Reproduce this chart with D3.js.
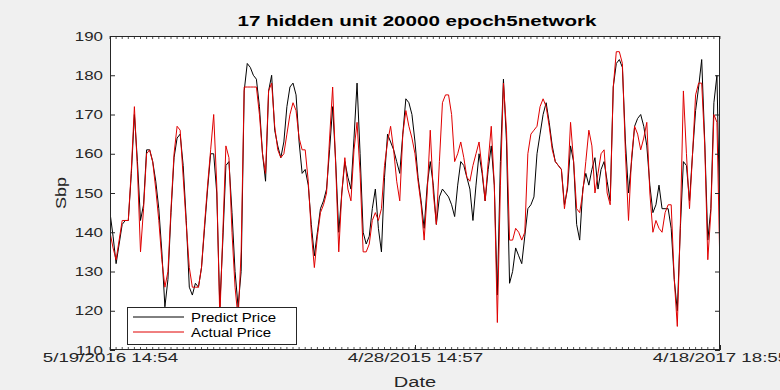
<!DOCTYPE html>
<html>
<head>
<meta charset="utf-8">
<script src="https://cdn.jsdelivr.net/npm/d3@7"></script>
<style>
  html, body { margin: 0; padding: 0; background: #f0f0f0; }
  svg { display: block; font-family: Arial, "Liberation Sans", Helvetica, sans-serif; }
</style>
</head>
<body>
<svg id="chart" width="780" height="390"></svg>
<script>
// ---- data ----
const title = "17 hidden unit 20000 epoch5network";
const xLabel = "Date";
const yLabel = "Sbp";
const seriesNames = ["Predict Price", "Actual Price"];
const xTickLabels = ["5/19/2016 14:54", "4/28/2015 14:57", "4/18/2017 18:55"];
const yTicks = [110, 120, 130, 140, 150, 160, 170, 180, 190];

const predictPrice = [
  145,139,132,137,142,143,143,155,170,158,143,147,161,161,158,153,146,135,121,128,
  145,159,164,165,157,143,126,124,127,126,131,141,151,160,160,150,121,138,157,158,
  145,130,121,130,176,183,182,180,179,172,160,153,176,180,166,162,159,163,172,177,
  178,175,163,155,156,152,142,134,140,146,148,151,161,172,158,140,150,158,154,151,
  164,178,160,140,137,139,146,151,141,135,154,165,163,161,158,155,165,174,173,170,
  163,154,148,141,152,158,152,142,149,151,150,149,147,144,152,158,157,154,151,143,
  152,160,155,148,156,162,152,124,158,179,163,127,130,136,134,132,139,146,147,149,
  160,165,170,173,168,162,158,157,156,147,151,162,158,142,138,151,155,152,156,159,
  151,156,158,153,148,177,183,184,182,163,150,158,167,169,170,167,162,152,145,147,
  152,146,146,146,141,128,120,141,158,157,148,160,171,177,184,163,138,146,173,180,
  140
];
const actualPrice = [
  140,136,133,138,143,143,143,156,172,156,135,146,160,161,158,151,143,133,126,130,
  146,160,167,166,154,142,131,126,126,126,131,142,152,161,170,152,118,140,162,159,
  140,126,118,135,177,177,177,177,177,170,160,155,176,178,167,161,159,160,165,170,
  173,171,164,161,161,153,140,131,139,145,147,150,164,177,157,135,150,159,151,148,
  161,168,155,135,135,137,143,145,143,146,157,163,167,161,153,148,165,171,167,164,
  160,153,147,138,150,166,150,142,158,173,175,175,170,158,160,163,159,154,153,157,
  160,163,156,148,158,167,152,117,152,178,166,138,138,141,140,138,140,160,165,166,
  167,172,174,172,167,161,158,157,156,146,152,168,158,146,145,150,158,166,162,150,
  155,160,161,150,147,177,186,186,183,160,143,159,167,165,161,164,168,150,140,143,
  141,140,145,147,147,128,116,142,176,160,146,160,175,178,178,162,133,145,170,168,
  130
];

// ---- layout ----
const W = 780, H = 390;
const m = { left: 110, right: 60, top: 36, bottom: 40 };
const x0 = m.left, x1 = W - m.right, y0 = m.top, y1 = H - m.bottom;
const FONT = "Arial, 'Liberation Sans', Helvetica, sans-serif";

// horizontally stretch a text selection by factor k (reference is widened)
function stretch(sel, k) {
  sel.each(function () {
    const w = this.getComputedTextLength();
    if (w > 0) {
      d3.select(this).attr("textLength", w * k).attr("lengthAdjust", "spacingAndGlyphs");
    }
  });
}

const svg = d3.select("#chart");
svg.append("rect").attr("width", W).attr("height", H).attr("fill", "#f0f0f0");

const n = actualPrice.length;
const idx = d3.range(1, n + 1);
const x = d3.scaleLinear().domain([1, n]).range([x0, x1]);
const y = d3.scaleLinear().domain([110, 190]).range([y1, y0]);

// axes area
svg.append("rect")
  .attr("x", x0).attr("y", y0).attr("width", x1 - x0).attr("height", y1 - y0)
  .attr("fill", "#ffffff");

svg.append("clipPath").attr("id", "clip")
  .append("rect").attr("x", x0).attr("y", y0).attr("width", x1 - x0).attr("height", y1 - y0);

// lines
const line = d3.line().x((d, i) => x(idx[i])).y(d => y(d));
const g = svg.append("g").attr("clip-path", "url(#clip)");
g.append("path").datum(predictPrice)
  .attr("d", line).attr("fill", "none").attr("stroke", "#000000").attr("stroke-width", 1);
g.append("path").datum(actualPrice)
  .attr("d", line).attr("fill", "none").attr("stroke", "#e00000").attr("stroke-width", 1);

// x minor ticks (top & bottom, inward)
const minorTicks = d3.range(1, n + 1, 2);
const tickCol = "#262626";
svg.append("g").selectAll("line").data(minorTicks).join("line")
  .attr("x1", d => x(d)).attr("x2", d => x(d))
  .attr("y1", y1).attr("y2", y1 - 3).attr("stroke", tickCol).attr("stroke-width", 0.8);
svg.append("g").selectAll("line").data(minorTicks).join("line")
  .attr("x1", d => x(d)).attr("x2", d => x(d))
  .attr("y1", y0).attr("y2", y0 + 3).attr("stroke", tickCol).attr("stroke-width", 0.8);

// y axis (left) with inward ticks
const yAxisL = d3.axisLeft(y).tickValues(yTicks).tickSize(-5).tickPadding(7);
const gyl = svg.append("g").attr("transform", `translate(${x0},0)`).call(yAxisL);
gyl.select(".domain").remove();
gyl.selectAll("line").attr("stroke", tickCol);
gyl.selectAll("text").attr("font-size", 13).attr("fill", "#262626").attr("font-family", FONT)
  .call(stretch, 1.3);

// y axis (right) ticks only
const yAxisR = d3.axisRight(y).tickValues(yTicks).tickSize(-5).tickFormat("");
const gyr = svg.append("g").attr("transform", `translate(${x1},0)`).call(yAxisR);
gyr.select(".domain").remove();
gyr.selectAll("line").attr("stroke", tickCol);

// x axis major tick labels
const xMajor = [1, Math.round((n + 1) / 2), n];
const xAxis = d3.axisBottom(x).tickValues(xMajor).tickSize(-5).tickPadding(3)
  .tickFormat((d, i) => xTickLabels[i]);
const gx = svg.append("g").attr("transform", `translate(0,${y1})`).call(xAxis);
gx.select(".domain").remove();
gx.selectAll("line").attr("stroke", tickCol);
gx.selectAll("text").attr("font-size", 13).attr("fill", "#262626").attr("font-family", FONT)
  .call(stretch, 1.44);

// box
svg.append("rect")
  .attr("x", x0 + 0.5).attr("y", y0 + 0.5).attr("width", x1 - x0 - 1).attr("height", y1 - y0 - 1)
  .attr("fill", "none").attr("stroke", "#262626").attr("stroke-width", 1);

// title & labels
svg.append("text").attr("x", (x0 + x1) / 2 + 2).attr("y", 26)
  .attr("text-anchor", "middle").attr("font-size", 14).attr("font-weight", "bold")
  .attr("fill", "#000").text(title).call(stretch, 1.47);
svg.append("text").attr("x", (x0 + x1) / 2).attr("y", 387)
  .attr("text-anchor", "middle").attr("font-size", 14).attr("fill", "#262626")
  .text(xLabel).call(stretch, 1.43);
svg.append("text").attr("transform", `translate(66,${(y0 + y1) / 2}) rotate(-90)`)
  .attr("text-anchor", "middle").attr("font-size", 15).attr("fill", "#262626")
  .text(yLabel).call(stretch, 1.2);

// legend
const lg = svg.append("g").attr("transform", "translate(127,307)");
lg.append("rect").attr("x", 0.5).attr("y", 0.5).attr("width", 169).attr("height", 37)
  .attr("fill", "#fff").attr("stroke", "#262626").attr("stroke-width", 1);
const legColors = ["#000000", "#e00000"];
seriesNames.forEach((name, i) => {
  const yy = 10 + i * 15;
  lg.append("line").attr("x1", 6).attr("x2", 57).attr("y1", yy).attr("y2", yy)
    .attr("stroke", legColors[i]).attr("stroke-width", 1);
  lg.append("text").attr("x", 64).attr("y", yy + 4.5).attr("font-size", 12.5)
    .attr("fill", "#000").text(name).call(stretch, 1.2);
});
</script>
</body>
</html>
